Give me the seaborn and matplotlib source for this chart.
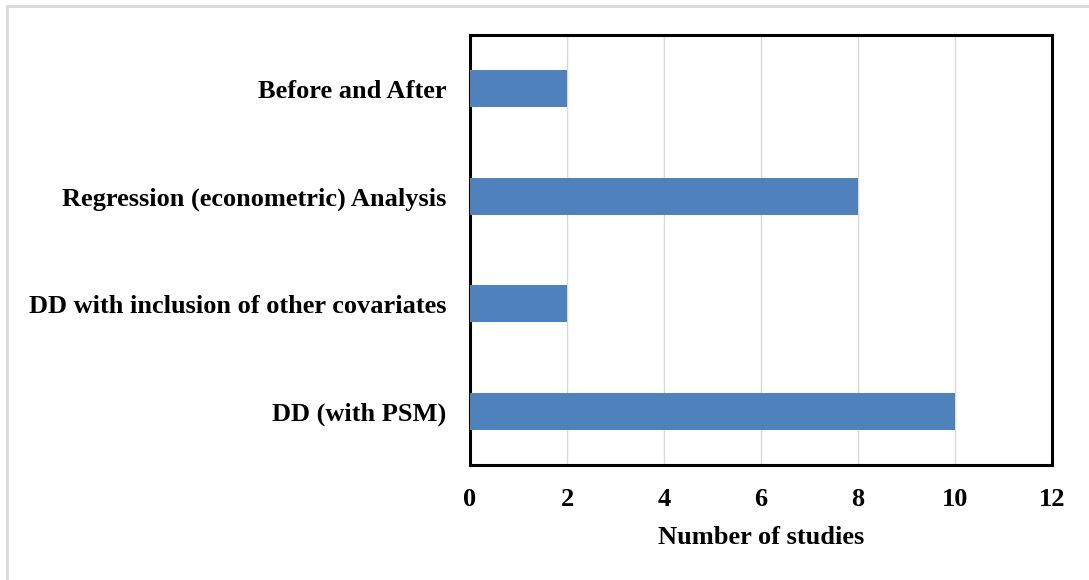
import matplotlib
matplotlib.use("Agg")
import matplotlib.pyplot as plt
import seaborn as sns
import pandas as pd
from matplotlib.lines import Line2D

categories = ["Before and After", "Regression (econometric) Analysis",
              "DD with inclusion of other covariates", "DD (with PSM)"]
counts = [2, 8, 2, 10]
xticks = [0, 2, 4, 6, 8, 10, 12]

sns.set_theme(style="white")
plt.rcParams['font.family'] = ['Liberation Serif', 'DejaVu Serif']
plt.rcParams['font.weight'] = 'bold'
plt.rcParams['text.color'] = 'black'
plt.rcParams['xtick.color'] = 'black'
plt.rcParams['ytick.color'] = 'black'
plt.rcParams['axes.labelcolor'] = 'black'

df = pd.DataFrame({"method": categories, "n": counts})

fig = plt.figure(figsize=(10.89, 5.8), dpi=100)
ax = fig.add_axes([470/1089, 1-465/580, (1052-470)/1089, (465-35)/580])

sns.barplot(data=df, y="method", x="n", orient="h", color="#4F81BD",
            saturation=1, width=0.34, ax=ax, zorder=3, edgecolor="none", linewidth=0)

fs = 19
ax.set_xlim(0, 12)
ax.set_xticks(xticks)
ax.set_xticklabels([str(t) for t in xticks], fontsize=fs, fontweight='bold', color='black')
ax.set_yticklabels(categories, fontsize=fs, fontweight='bold', color='black')
ax.tick_params(axis='both', length=0)
ax.tick_params(axis='y', pad=17)
ax.tick_params(axis='x', pad=16.5)
ax.set_ylabel("")
ax.set_xlabel("Number of studies", fontsize=fs, fontweight='bold', labelpad=11, color='black')
ax.xaxis.grid(True, color="#D9D9D9", linewidth=1.0, zorder=0)
ax.yaxis.grid(False)
ax.set_axisbelow(True)
for s in ax.spines.values():
    s.set_color("black")
    s.set_linewidth(2.2)
    s.set_visible(True)

fig.lines.append(Line2D([7/1089, 7/1089], [0, 1 - 6/580], transform=fig.transFigure,
                        color="#D9D9D9", linewidth=2))
fig.lines.append(Line2D([7/1089, 1], [1 - 6/580, 1 - 6/580], transform=fig.transFigure,
                        color="#D9D9D9", linewidth=2))

fig.savefig("out.png", dpi=100)
